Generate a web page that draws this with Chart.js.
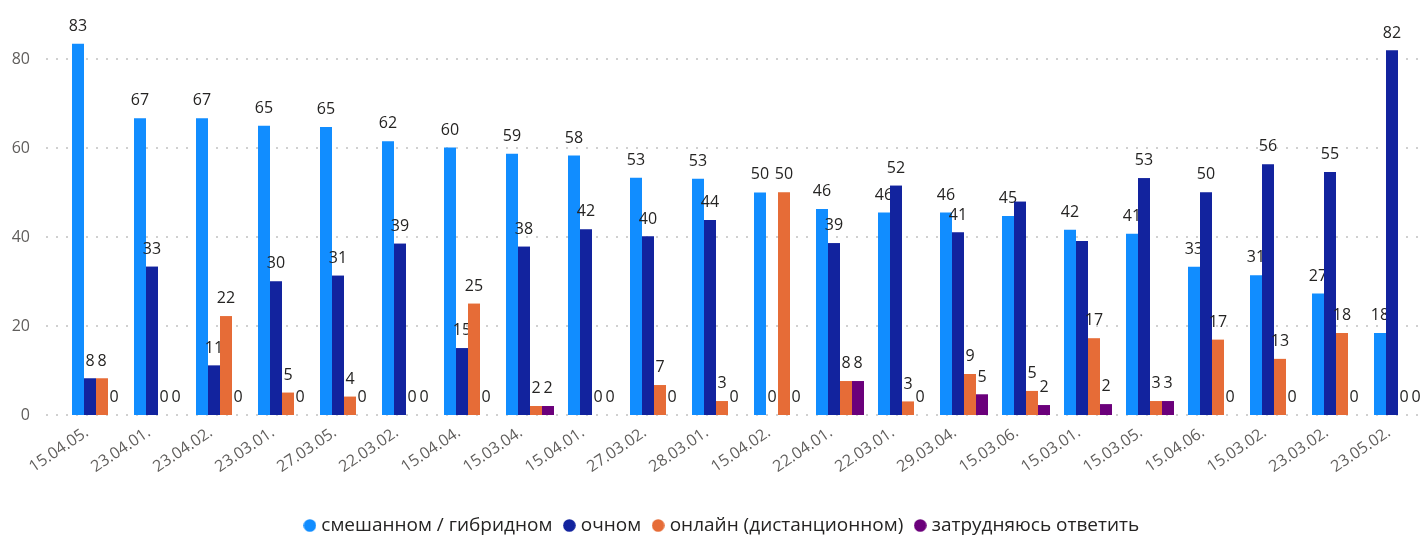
<!DOCTYPE html>
<html><head><meta charset="utf-8">
<script src="https://cdn.jsdelivr.net/npm/chart.js@4.4.0/dist/chart.umd.min.js"></script>
<style>
html,body{margin:0;padding:0;overflow:hidden;background:#fff}
#wrap{position:absolute;left:0;top:0;width:1440px;height:545px}
</style>
</head><body>
<div id="wrap"><canvas id="c"></canvas></div>
<script>
const categories = ['15.04.05.','23.04.01.','23.04.02.','23.03.01.','27.03.05.','22.03.02.','15.04.04.','15.03.04.','15.04.01.','27.03.02.','28.03.01.','15.04.02.','22.04.01.','22.03.01.','29.03.04.','15.03.06.','15.03.01.','15.03.05.','15.04.06.','15.03.02.','23.03.02.','23.05.02.'];
const seriesNames = ['смешанном / гибридном','очном','онлайн (дистанционном)','затрудняюсь ответить'];
const mixed    = [83.4,66.7,66.7,65.0,64.7,61.5,60.1,58.7,58.3,53.3,53.1,50.0,46.3,45.5,45.5,44.7,41.6,40.7,33.3,31.4,27.3,18.4];
const inPerson = [8.2,33.3,11.1,30.0,31.3,38.5,15.0,37.8,41.7,40.1,43.8,0,38.6,51.5,41.0,47.9,39.1,53.2,50.0,56.3,54.6,81.9];
const online   = [8.2,0,22.2,5.0,4.1,0,25.0,2.0,0,6.7,3.1,50.0,7.6,3.0,9.2,5.4,17.2,3.1,16.9,12.6,18.4,0];
const unsure   = [0,0,0,0,0,0,0,2.0,0,0,0,0,7.6,0,4.6,2.2,2.4,3.1,0,0,0,0];
const yTicks = [0,20,40,60,80];
const colors = ['#118DFF','#12239E','#E66C37','#6B007B'];

const FONT = "'Open Sans', sans-serif";
Chart.defaults.font.family = FONT;

function dot(color){
  const c = document.createElement('canvas');
  c.width = 13; c.height = 13;
  const g = c.getContext('2d');
  g.fillStyle = color; g.beginPath(); g.arc(6.5,6.5,6.3,0,Math.PI*2); g.fill();
  return c;
}
const dots = colors.map(dot);

const gridPlugin = {
  id:'dotGrid',
  afterLayout(chart){
    if (chart.legend){ chart.legend.left += 9; chart.legend.right += 9; }
  },
  beforeDatasetsDraw(chart){
    const {ctx, chartArea, scales:{y}} = chart;
    ctx.save();
    ctx.strokeStyle = '#D0D0D0'; ctx.lineWidth = 2; ctx.setLineDash([2,8]);
    yTicks.forEach(v=>{
      const py = Math.round(y.getPixelForValue(v));
      ctx.beginPath(); ctx.moveTo(46,py); ctx.lineTo(chartArea.right,py); ctx.stroke();
    });
    ctx.restore();
  }
};

const labelPlugin = {
  id:'barLabels',
  afterDatasetsDraw(chart){
    const ctx = chart.ctx;
    const placed = [];
    ctx.save();
    chart.data.datasets.forEach((ds, di)=>{
      const meta = chart.getDatasetMeta(di);
      if (di > 0) meta.data.forEach(b=>b.draw(ctx));
      ctx.font = "16px " + FONT;
      ctx.textAlign = 'center';
      ctx.textBaseline = 'alphabetic';
      ctx.fillStyle = '#252423';
      meta.data.forEach((bar, i)=>{
        const txt = String(Math.round(ds.data[i]));
        const w = ctx.measureText(txt).width;
        const yb = bar.y - 13;
        const box = {l:bar.x-w/2, r:bar.x+w/2, t:yb-15, b:yb+1};
        if (placed.some(p=>box.l<p.r && box.r>p.l && box.t<p.b && box.b>p.t)) return;
        placed.push(box);
        ctx.fillText(txt, bar.x, yb);
      });
    });
    ctx.restore();
  }
};

const seriesData = [mixed, inPerson, online, unsure];
new Chart(document.getElementById('c'), {
  type:'bar',
  data:{
    labels: categories,
    datasets: seriesNames.map((n,i)=>({
      label:n, data:seriesData[i], backgroundColor:colors[i],
      categoryPercentage:0.774, barPercentage:1.0, borderWidth:0
    }))
  },
  options:{
    responsive:true, maintainAspectRatio:false, animation:false,
    layout:{padding:{left:0,right:11,top:10,bottom:0}},
    plugins:{
      tooltip:{enabled:false},
      legend:{
        position:'bottom',
        labels:{
          usePointStyle:true, pointStyleWidth:4, padding:15,
          color:'#252423', font:{size:19, family:FONT},
          generateLabels(chart){
            const items = Chart.defaults.plugins.legend.labels.generateLabels(chart);
            items.forEach(it=>{ it.pointStyle = dots[it.datasetIndex]; });
            return items;
          }
        }
      }
    },
    scales:{
      x:{
        grid:{display:false}, border:{display:false},
        ticks:{autoSkip:false, minRotation:34, maxRotation:34, color:'#605E5C', font:{size:16}, padding:0, labelOffset:-9},
        afterFit(s){ s.height = 86; }
      },
      y:{
        min:0, max:91,
        grid:{display:false, drawTicks:true, tickLength:35}, border:{display:false},
        ticks:{color:'#605E5C', font:{size:16}, padding:0},
        afterBuildTicks(s){ s.ticks = yTicks.map(v=>({value:v})); },
        afterFit(s){ s.width = 65; }
      }
    }
  },
  plugins:[gridPlugin, labelPlugin]
});
</script>
</body></html>
